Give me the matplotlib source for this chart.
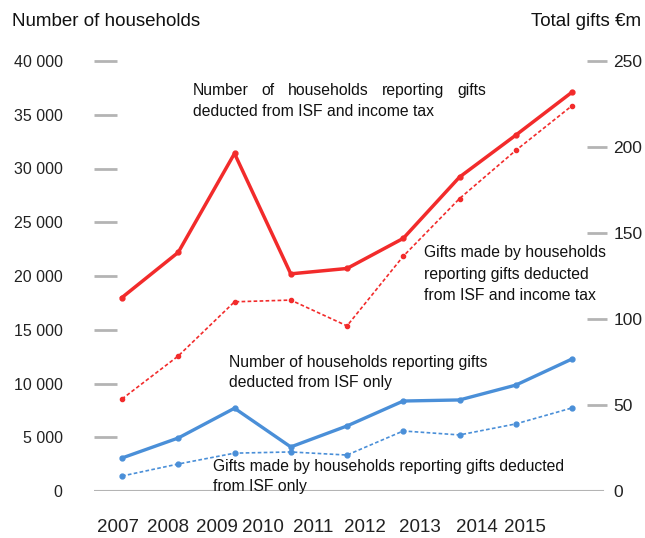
import matplotlib
matplotlib.use("Agg")
import matplotlib.pyplot as plt

years = ["2007", "2008", "2009", "2010", "2011", "2012", "2013", "2014", "2015"]
# households reporting gifts deducted from ISF and income tax (left axis)
hh_isf_income = [18000, 22200, 31400, 20200, 20700, 23500, 29200, 33100, 37100]
# households reporting gifts deducted from ISF only (left axis)
hh_isf_only = [3070, 4930, 7700, 4100, 6050, 8370, 8470, 9850, 12280]
# gifts made, €m (right axis)
gifts_isf_income = [53.5, 78.5, 110, 111, 96, 136.5, 170, 198, 224]
gifts_isf_only = [8.7, 15.7, 22, 22.7, 20.9, 34.9, 32.6, 39, 48.3]

left_ticks = [0, 5000, 10000, 15000, 20000, 25000, 30000, 35000, 40000]
left_labels = ["0", "5 000", "10 000", "15 000", "20 000", "25 000", "30 000", "35 000", "40 000"]
right_ticks = [0, 50, 100, 150, 200, 250]
right_labels = ["0", "50", "100", "150", "200", "250"]
# where the year labels sit along the x axis
year_label_pos = [-0.07, 0.82, 1.69, 2.51, 3.40, 4.32, 5.30, 6.31, 7.17]

tick_font = "Liberation Sans"
text_font = "Liberation Sans"

RED = "#f22b2b"
BLUE = "#4a8fd8"
GREY = "#b4b4b4"
INK = "#222222"

W, H = 645, 538
fig = plt.figure(figsize=(W / 100, H / 100), dpi=100)
x0, x1 = 94, 607
ytop, ybot = 61, 491
ax = fig.add_axes([x0 / W, (H - ybot) / H, (x1 - x0) / W, (ybot - ytop) / H])
ax2 = ax.twinx()

xs = list(range(len(years)))
px_per_unit = 56.25
ax.set_xlim(-(122 - x0) / px_per_unit, -(122 - x0) / px_per_unit + (x1 - x0) / px_per_unit)
ax.set_ylim(0, 40000)
ax2.set_ylim(0, 250)

for a in (ax, ax2):
    for s in a.spines.values():
        s.set_visible(False)
    a.patch.set_visible(False)

ax.axhline(0, xmin=0, xmax=(603 - x0) / (x1 - x0), color=GREY, lw=1.5, zorder=1)

ax.plot(xs, hh_isf_income, color=RED, lw=2.5, marker="o", ms=3.5, solid_joinstyle="round", zorder=4)
ax.plot(xs, hh_isf_only, color=BLUE, lw=2.4, marker="o", ms=3.5, solid_joinstyle="round", zorder=4)
ax2.plot(xs, gifts_isf_income, color=RED, lw=1.2, ls=(0, (2.2, 1.4)), marker="o", ms=3, zorder=4)
ax2.plot(xs, gifts_isf_only, color=BLUE, lw=1.2, ls=(0, (2.2, 1.4)), marker="o", ms=3.5, zorder=4)

ax.set_yticks(left_ticks)
ax.set_yticklabels(left_labels, fontfamily=tick_font, fontsize=11.5, color=INK)
ax.tick_params(axis="y", direction="in", length=16.5, width=2, color=GREY, pad=22.5)
ax2.set_yticks(right_ticks)
ax2.set_yticklabels(right_labels, fontfamily=tick_font, fontsize=12.5, color=INK)
ax2.tick_params(axis="y", direction="in", length=14.5, width=2, color=GREY, pad=4.5)

# the zero level is marked by the baseline instead of a dash
ax.yaxis.get_major_ticks()[0].tick1line.set_visible(False)
ax2.yaxis.get_major_ticks()[0].tick2line.set_visible(False)

ax.set_xticks(year_label_pos)
ax.set_xticklabels(years, fontfamily=tick_font, fontsize=13.5, color=INK)
ax.tick_params(axis="x", length=0, pad=20)

fig.text(12 / W, 1 - 22 / H, "Number of households", ha="left", va="center",
         fontfamily=text_font, fontsize=13.5, color="#111111")
fig.text(641 / W, 1 - 22 / H, "Total gifts €m", ha="right", va="center",
         fontfamily=text_font, fontsize=13.5, color="#111111")

fs = 11.3
fig.canvas.draw()
renderer = fig.canvas.get_renderer()


def justified(words, left, right, y):
    """Spread words across [left, right] pixels on one line."""
    arts = [fig.text(0, 1 - y / H, w, ha="left", va="center", fontfamily=text_font,
                     fontsize=fs, color="#111111") for w in words]
    widths = [t.get_window_extent(renderer).width for t in arts]
    gap = (right - left - sum(widths)) / (len(words) - 1)
    xpos = left
    for t, wd in zip(arts, widths):
        t.set_x(xpos / W)
        xpos += wd + gap


def lines(texts, left, y, step=21):
    for i, s in enumerate(texts):
        fig.text(left / W, 1 - (y + i * step) / H, s, ha="left", va="center",
                 fontfamily=text_font, fontsize=fs, color="#111111")


justified(["Number", "of", "households", "reporting", "gifts"], 193, 486, 91)
lines(["deducted from ISF and income tax"], 193, 112)
lines(["Gifts made by households", "reporting gifts deducted", "from ISF and income tax"], 424, 253)
lines(["Number of households reporting gifts", "deducted from ISF only"], 229, 362, 20)
lines(["Gifts made by households reporting gifts deducted", "from ISF only"], 213, 467, 19)

fig.savefig("out.png", dpi=100)
